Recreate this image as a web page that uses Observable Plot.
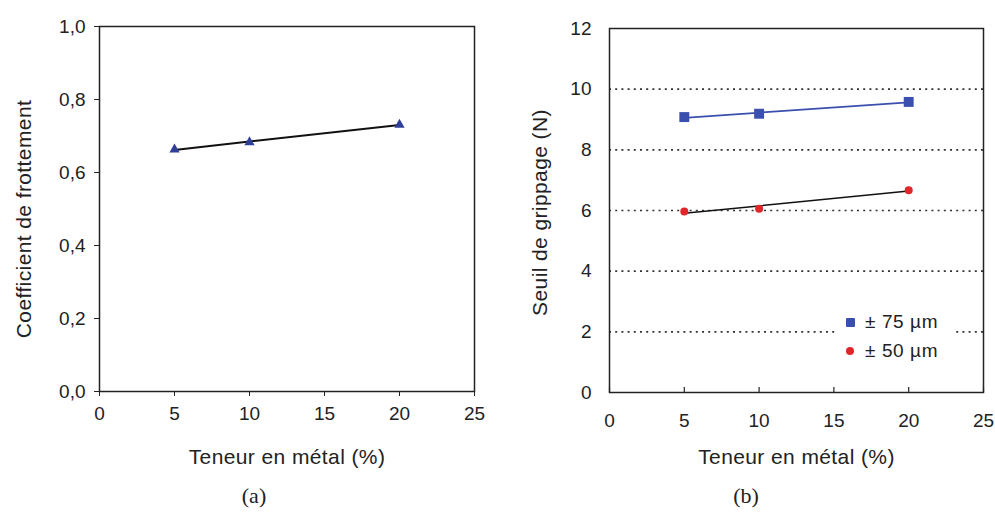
<!DOCTYPE html>
<html><head><meta charset="utf-8">
<script src="https://cdn.jsdelivr.net/npm/d3@7"></script>
<script src="https://cdn.jsdelivr.net/npm/@observablehq/plot@0.6"></script>
<style>
body{margin:0;background:#fff;}
#wrap{position:relative;width:995px;height:516px;font-family:"Liberation Sans",Arial,sans-serif;color:#222;overflow:hidden;}
#a{position:absolute;left:0;top:0}
#b{position:absolute;left:497px;top:0}
.axlab text{letter-spacing:0.4px}
#legend{position:absolute;left:837px;top:305px;width:118px;height:60px;background:#fff;}
.lrow{position:absolute;left:0;height:24px;width:118px;font-size:19px;line-height:24px;letter-spacing:0.6px;}
.lrow span.t{position:absolute;left:28px;top:0;white-space:nowrap}
.sw{position:absolute}
.cap{position:absolute;top:483px;font-family:"Liberation Serif","DejaVu Serif",serif;font-size:22px;color:#222;transform:translateX(-50%);}
</style></head><body>
<div id="wrap">
  <div id="a"></div>
  <div id="b"></div>
  <div id="legend"></div>
  <div id="capA" class="cap" style="left:254px"></div>
  <div id="capB" class="cap" style="left:746px"></div>
</div>
<script>
// ---- data ----
const metal = [5, 10, 20];
const coefFrottement = [0.663, 0.683, 0.731];
const seuil75 = [9.08, 9.19, 9.58];
const seuil50 = [5.97, 6.06, 6.67];
const xTicks = [0, 5, 10, 15, 20, 25];
const yTicksA = [0, 0.2, 0.4, 0.6, 0.8, 1.0];
const yTicksB = [0, 2, 4, 6, 8, 10, 12];
const gridB = [2, 4, 6, 8, 10];
const seriesNames = ["± 75 µm", "± 50 µm"];
const xLabel = "Teneur en métal (%)";
const yLabelA = "Coefficient de frottement";
const yLabelB = "Seuil de grippage (N)";
const captions = ["(a)", "(b)"];

const blue = "#3a4fae", tri = "#2f3f98", red = "#e0262b";

const dataA = metal.map((x, i) => ({x, y: coefFrottement[i]}));
const data75 = metal.map((x, i) => ({x, y: seuil75[i]}));
const data50 = metal.map((x, i) => ({x, y: seuil50[i]}));

const style = {fontFamily: "Liberation Sans, Arial, sans-serif", fontSize: "19px", color: "#222", background: "transparent", overflow: "visible"};

const plotA = Plot.plot({
  width: 497, height: 475, marginLeft: 99, marginRight: 23, marginTop: 26, marginBottom: 84,
  style,
  x: {domain: [0, 25]},
  y: {domain: [0, 1]},
  marks: [
    Plot.axisX({ticks: xTicks, tickSize: 5, tickPadding: 10, label: null}),
    Plot.axisY({ticks: yTicksA, tickSize: 5, tickPadding: 9, label: null, tickFormat: d => d.toFixed(1).replace(".", ",")}),
    Plot.frame({stroke: "#222", strokeWidth: 1.5}),
    Plot.linearRegressionY(dataA, {x: "x", y: "y", stroke: "#111", strokeWidth: 2, ci: 0}),
    Plot.dot(dataA, {x: "x", y: "y", symbol: "triangle", r: 3.8, fill: tri, stroke: "none"}),
    Plot.text([xLabel], {text: d => d, frameAnchor: "bottom", lineAnchor: "middle", textAnchor: "middle", dy: 66, fontSize: 21, fill: "#222", className: "axlab"}),
    Plot.text([yLabelA], {text: d => d, frameAnchor: "left", lineAnchor: "middle", textAnchor: "middle", dx: -75, dy: 10, rotate: -90, fontSize: 21, fill: "#222", className: "axlab"})
  ]
});
document.getElementById("a").appendChild(plotA);

const plotB = Plot.plot({
  width: 498, height: 475, marginLeft: 112, marginRight: 12, marginTop: 28, marginBottom: 83,
  style,
  x: {domain: [0, 25]},
  y: {domain: [0, 12]},
  marks: [
    Plot.ruleY(gridB, {stroke: "#333", strokeWidth: 1.6, strokeDasharray: "2,4.2"}),
    Plot.axisX({ticks: xTicks, tickSize: 0, tickPadding: 21, label: null}),
    Plot.tickX(xTicks, {x: d => d, insetTop: 359, stroke: "#222", strokeWidth: 1.2}),
    Plot.axisY({ticks: yTicksB, tickSize: 0, tickPadding: 18, label: null}),
    Plot.frame({stroke: "#222", strokeWidth: 1.5}),
    Plot.linearRegressionY(data75, {x: "x", y: "y", stroke: blue, strokeWidth: 1.8, ci: 0}),
    Plot.linearRegressionY(data50, {x: "x", y: "y", stroke: "#111", strokeWidth: 1.5, ci: 0}),
    Plot.dot(data75, {x: "x", y: "y", symbol: "square", r: 5.6, fill: blue, stroke: "none"}),
    Plot.dot(data50, {x: "x", y: "y", r: 4, fill: red, stroke: "none"}),
    Plot.text([xLabel], {text: d => d, frameAnchor: "bottom", lineAnchor: "middle", textAnchor: "middle", dy: 65, fontSize: 21, fill: "#222", className: "axlab"}),
    Plot.text([yLabelB], {text: d => d, frameAnchor: "left", lineAnchor: "middle", textAnchor: "middle", dx: -69, dy: 2, rotate: -90, fontSize: 21, fill: "#222", className: "axlab"})
  ]
});
document.getElementById("b").appendChild(plotB);

// legend
const legend = document.getElementById("legend");
const swatches = [
  {color: blue, w: 9, h: 9, radius: "1px"},
  {color: red, w: 8, h: 8, radius: "50%"}
];
seriesNames.forEach((name, i) => {
  const row = document.createElement("div");
  row.className = "lrow";
  row.style.top = (5 + i * 29) + "px";
  const sw = document.createElement("div");
  sw.className = "sw";
  const s = swatches[i];
  sw.style.cssText = `left:${13 - s.w / 2}px;top:${12 - s.h / 2}px;width:${s.w}px;height:${s.h}px;background:${s.color};border-radius:${s.radius}`;
  const t = document.createElement("span");
  t.className = "t";
  t.textContent = name;
  row.appendChild(sw);
  row.appendChild(t);
  legend.appendChild(row);
});
document.getElementById("capA").textContent = captions[0];
document.getElementById("capB").textContent = captions[1];
</script>
</body></html>
